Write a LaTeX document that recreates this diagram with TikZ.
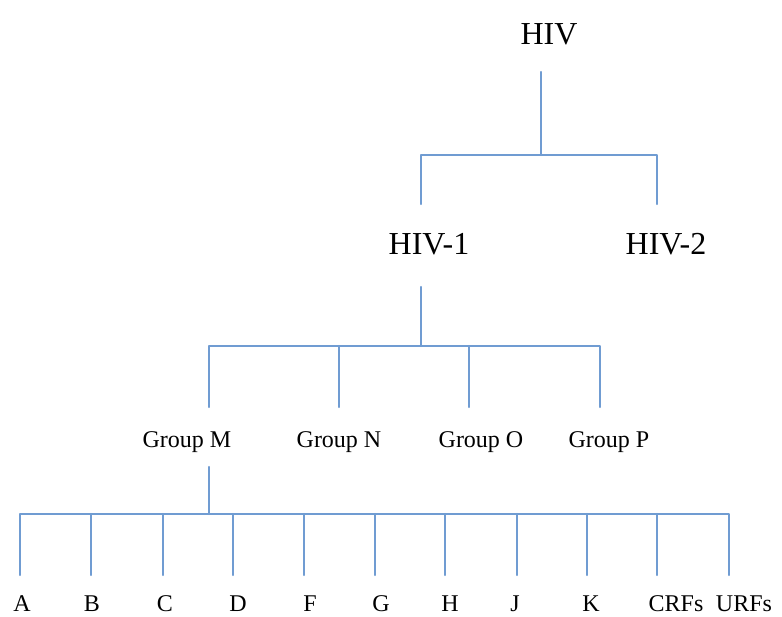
\documentclass[tikz,border=0pt]{standalone}
\usepackage{fontspec}
\setmainfont{Liberation Serif}
\definecolor{linkblue}{RGB}{112,156,210}
\begin{document}
\begin{tikzpicture}[x=1pt,y=-1pt,
  big/.style={anchor=base, inner sep=0pt, font=\fontsize{32}{36}\selectfont},
  small/.style={anchor=base, inner sep=0pt, font=\fontsize{24}{27}\selectfont},
  link/.style={draw=linkblue, line width=2.3pt, line cap=round, line join=round}]
\useasboundingbox (0,0) rectangle (782,617);
% level 0 / 1
\node[big] (hiv) at (549,45) {HIV};
\node[big] (hiv1) at (429,255) {HIV-1};
\node[big] (hiv2) at (666,255) {HIV-2};
\coordinate (hivT) at (541,72);
\coordinate (hivJ) at (541,155);
\coordinate (hiv1T) at (421,204);
\coordinate (hiv2T) at (657,204);
\draw[link] (hivT) -- (hivJ);
\draw[link] (hiv1T) |- (hivJ) -| (hiv2T);
% level 2
\node[small] (gM) at (187,448) {Group M};
\node[small] (gN) at (339,448) {Group N};
\node[small] (gO) at (481,448) {Group O};
\node[small] (gP) at (609,448) {Group P};
\coordinate (hiv1B) at (421,287);
\coordinate (hiv1J) at (421,346);
\coordinate (gMT) at (209,407);
\coordinate (gNT) at (339,407);
\coordinate (gOT) at (469,407);
\coordinate (gPT) at (600,407);
\draw[link] (hiv1B) -- (hiv1J);
\draw[link] (gMT) |- (hiv1J) -| (gPT);
\draw[link] (gNT) -- (gNT |- hiv1J);
\draw[link] (gOT) -- (gOT |- hiv1J);
% level 3
\coordinate (gMB) at (209,467);
\coordinate (gMJ) at (209,514);
\draw[link] (gMB) -- (gMJ);
\foreach \name/\lx/\tx/\txt in {sA/20/22/A, sB/91/92/B, sC/163/165/C, sD/233/238/D, sF/304/310/F, sG/375/381/G, sH/445/450/H, sJ/517/515/J, sK/587/591/K, sCRF/657/676/CRFs, sURF/729/744/URFs}{
  \node[small] (\name) at (\tx,611) {\txt};
  \coordinate (\name T) at (\lx,575);
}
\draw[link] (sAT) |- (gMJ) -| (sURFT);
\foreach \name in {sB,sC,sD,sF,sG,sH,sJ,sK,sCRF}{
  \draw[link] (\name T) -- (\name T |- gMJ);
}
\end{tikzpicture}
\end{document}
